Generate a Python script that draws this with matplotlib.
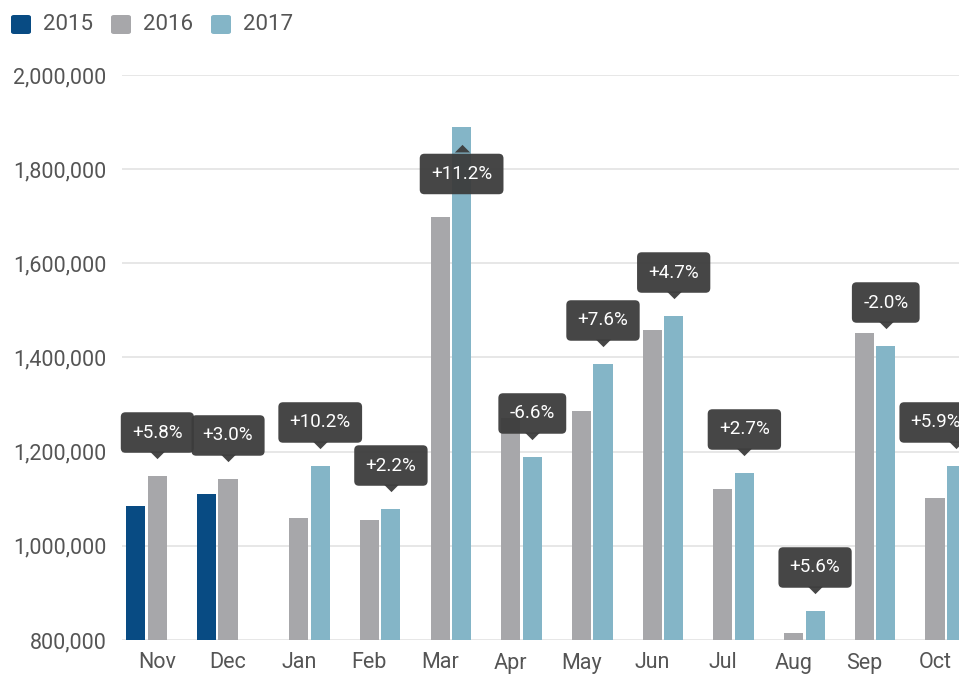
import numpy as np
import matplotlib.pyplot as plt
from matplotlib.patches import FancyBboxPatch
from matplotlib.transforms import offset_copy

plt.rcParams['font.family'] = ['Roboto', 'DejaVu Sans']

months = ['Nov', 'Dec', 'Jan', 'Feb', 'Mar', 'Apr', 'May', 'Jun', 'Jul', 'Aug', 'Sep', 'Oct']
years = ['2015', '2016', '2017']
v2015 = [1084600, 1110100] + [np.nan] * 10
v2016 = [1148300, 1142000, 1059100, 1054900, 1698400, 1272000,
         1286400, 1458400, 1120700, 814900, 1452000, 1101600]
v2017 = [np.nan, np.nan, 1169600, 1078200, 1889600, 1188700,
         1386200, 1488100, 1154700, 861600, 1424400, 1169600]
changes = ['+5.8%', '+3.0%', '+10.2%', '+2.2%', '+11.2%', '-6.6%',
           '+7.6%', '+4.7%', '+2.7%', '+5.6%', '-2.0%', '+5.9%']

colors = ['#084b83', '#a7a7aa', '#84b5c7']
yticks = np.arange(800000, 2000001, 200000)

W, H = 959, 675
fig = plt.figure(figsize=(W / 100, H / 100), dpi=100)
ax = fig.add_axes([122 / W, 35 / H, 1 - 122 / W, (640 - 75) / H])

x = np.arange(len(months))
slot = 0.304
series = [v2015, v2016, v2017]
for k, vals in enumerate(series):
    ax.bar(x + (k - 1) * slot, np.array(vals) - 800000, bottom=800000,
           width=0.27, color=colors[k], zorder=2)

ax.set_xlim(-0.5, 11.34)
ax.set_ylim(800000, 2000000)
ax.set_yticks(yticks)
ax.set_yticklabels([f'{t:,}' for t in yticks])
ax.set_xticks(x)
ax.set_xticklabels(months)
ax.tick_params(axis='both', length=0, labelsize=15.5, colors='#555555')
ax.tick_params(axis='y', pad=11)
ax.tick_params(axis='x', pad=9)
for s in ax.spines.values():
    s.set_visible(False)
ax.grid(axis='y', color='#e3e3e3', lw=1.2, zorder=0)
ax.set_axisbelow(True)

# callouts over the later-year bar
pt = 72 / 100  # points per pixel
box_color = '#3c3c3c'
max_center = 936  # keep boxes inside the chart area on the right
for i, label in enumerate(changes):
    k = 2 if not np.isnan(v2017[i]) else 1
    top = series[k][i]
    xb = x[i] + (k - 1) * slot
    cx_px, top_px = ax.transData.transform((xb, top))
    ax_top_px = ax.transAxes.transform((0, 1))[1]
    dx = min(0, max_center - cx_px)
    flip = top_px + 23 + 41 > ax_top_px + 5
    if flip:
        box_off, tri_off, marker = -47, -25, [(-1, 0), (1, 0), (0, 1)]
    else:
        box_off, tri_off, marker = 43.5, 25, [(-1, 0), (1, 0), (0, -1)]
    ax.annotate(label, xy=(xb, top), xytext=(dx * pt, box_off * pt), textcoords='offset points',
                ha='center', va='center', fontsize=13.5, color='white', zorder=5,
                annotation_clip=False,
                bbox=dict(boxstyle='round,pad=0.6,rounding_size=0.25',
                          fc=box_color, ec='none', alpha=0.95))
    tr = offset_copy(ax.transData, fig=fig, x=0, y=tri_off * pt, units='points')
    ax.plot([xb], [top], marker=marker, ms=11, color=box_color, alpha=0.95,
            transform=tr, zorder=5, clip_on=False, markeredgewidth=0)

# legend
for k, yr in enumerate(years):
    x0 = 11 + k * 100
    fig.patches.append(FancyBboxPatch((x0 / W, (H - 34) / H), 20 / W, 19 / H,
                                      boxstyle='round,pad=0,rounding_size=0.003',
                                      transform=fig.transFigure, fc=colors[k], ec='none'))
    fig.text((x0 + 32) / W, (H - 24) / H, yr, fontsize=16, color='#555555',
             ha='left', va='center')

fig.savefig('out.png', dpi=100)
